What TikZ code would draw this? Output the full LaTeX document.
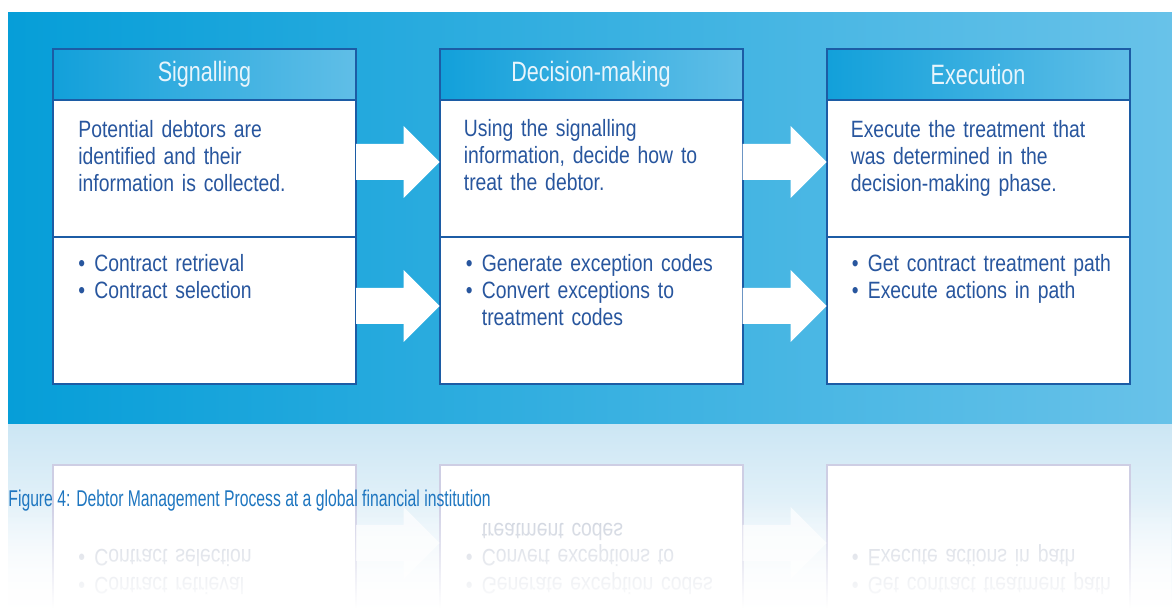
\documentclass[tikz,border=0pt]{standalone}
\usepackage{fontspec}
\setmainfont[FakeStretch=0.82]{Liberation Sans}
\newfontfamily\headfont[FakeStretch=0.77]{Liberation Sans}
\newfontfamily\capfont[FakeStretch=0.69]{Liberation Sans}
\usepackage{tikz}
\usetikzlibrary{positioning,calc,fadings}

\definecolor{panelleft}{RGB}{6,158,216}
\definecolor{panelright}{RGB}{104,194,233}
\definecolor{headleft}{RGB}{18,160,218}
\definecolor{headright}{RGB}{96,190,231}
\definecolor{boxline}{RGB}{28,92,165}
\definecolor{inktext}{RGB}{40,86,158}
\definecolor{headtext}{RGB}{232,245,252}
\definecolor{captionblue}{RGB}{30,118,192}
\definecolor{mirrorblue}{RGB}{204,230,244}
\definecolor{mirrorline}{RGB}{206,206,228}
\definecolor{mirrortext}{RGB}{200,206,218}

% white block arrow between two stages, #4 = height of its axis
\newcommand{\flowarrow}[4][white]{%
  \fill[#1] let \p1=(#2.east), \p2=(#3.west), \p3=(0,#4) in
    (\x1,\y3+9pt) -- (\x2-18pt,\y3+9pt) -- (\x2-18pt,\y3+18pt) -- (\x2,\y3)
    -- (\x2-18pt,\y3-18pt) -- (\x2-18pt,\y3-9pt) -- (\x1,\y3-9pt) -- cycle;}
\newcommand{\stagebullet}{\makebox[8pt][l]{\textbullet}}

\begin{document}
\begin{tikzpicture}[x=0.5pt, y=-0.5pt,
    stagehead/.style={draw=boxline, line width=1pt, left color=headleft, right color=headright,
      minimum width=151.5pt, minimum height=25.5pt, inner sep=0pt, outer sep=0pt,
      text=headtext, font=\headfont\fontsize{14}{16}\selectfont},
    stagebody/.style={draw=boxline, line width=1pt, fill=white, minimum width=151.5pt,
      inner sep=0pt, outer sep=0pt},
    stagetext/.style={text=inktext, align=left, text width=135pt, inner sep=0pt,
      anchor=base west, font=\fontsize{11.8}{13.5}\selectfont},
    mirrorbox/.style={draw=mirrorline, line width=1pt, fill=white, minimum width=151.5pt,
      minimum height=73.5pt, inner sep=0pt, outer sep=0pt},
    mirrortext/.style={stagetext, text=mirrortext, yscale=-1}]
    \useasboundingbox (0,0) rectangle (1172,608);
    \fill[white] (0,0) rectangle (1172,608);
    \shade[left color=panelleft, right color=panelright] (8,13) rectangle (1172,425);

    % the three stages
    \node[stagehead] (h1) at (204.5,74.5) {Signalling};
    \node[stagebody, minimum height=68.5pt, below=0pt of h1] (u1) {};
    \node[stagebody, minimum height=73.5pt, below=0pt of u1] (l1) {};
    \node[stagehead] (h2) at (591,74.5) {Decision-making};
    \node[stagebody, minimum height=68.5pt, below=0pt of h2] (u2) {};
    \node[stagebody, minimum height=73.5pt, below=0pt of u2] (l2) {};
    \node[stagehead] (h3) at (978,74.5) {Execution};
    \node[stagebody, minimum height=68.5pt, below=0pt of h3] (u3) {};
    \node[stagebody, minimum height=73.5pt, below=0pt of u3] (l3) {};

    \node[stagetext] (t1) at ([xshift=12.5pt, yshift=-19pt]u1.north west)
      {Potential debtors are\\identified and their\\information is collected.};
    \node[stagetext] (t2) at ([xshift=12pt, yshift=-18.5pt]u2.north west)
      {Using the signalling\\information, decide how to\\treat the debtor.};
    \node[stagetext] (t3) at ([xshift=12pt, yshift=-19pt]u3.north west)
      {Execute the treatment that\\was determined in the\\decision-making phase.};
    \node[stagetext] (b1) at ([xshift=12.5pt, yshift=-17.5pt]l1.north west)
      {\stagebullet Contract retrieval\\\stagebullet Contract selection};
    \node[stagetext] (b2) at ([xshift=13pt, yshift=-17.5pt]l2.north west)
      {\stagebullet Generate exception codes\\\stagebullet Convert exceptions to\\\hspace*{8pt}treatment codes};
    \node[stagetext] (b3) at ([xshift=12.5pt, yshift=-17.5pt]l3.north west)
      {\stagebullet Get contract treatment path\\\stagebullet Execute actions in path};

    \flowarrow{u1}{u2}{162}
    \flowarrow{l1}{l2}{306}
    \flowarrow{u2}{u3}{162}
    \flowarrow{l2}{l3}{306}

    % reflection under the panel
    \begin{scope}
      \clip (8,425) rectangle (1172,608);
      \shade[top color=mirrorblue, bottom color=white] (8,425) rectangle (1172,608);
      \node[mirrorbox, below=40.5pt of l1] (m1) {};
      \node[mirrorbox, below=40.5pt of l2] (m2) {};
      \node[mirrorbox, below=40.5pt of l3] (m3) {};
      \flowarrow[white, opacity=0.7]{m1}{m2}{543}
      \flowarrow[white, opacity=0.7]{m2}{m3}{543}
      \node[mirrortext] (r1) at ([xshift=12.5pt, yshift=-56pt]m1.north west)
        {\stagebullet Contract retrieval\\\stagebullet Contract selection};
      \node[mirrortext] (r2) at ([xshift=13pt, yshift=-56pt]m2.north west)
        {\stagebullet Generate exception codes\\\stagebullet Convert exceptions to\\\hspace*{8pt}treatment codes};
      \node[mirrortext] (r3) at ([xshift=12.5pt, yshift=-56pt]m3.north west)
        {\stagebullet Get contract treatment path\\\stagebullet Execute actions in path};
      \fill[white, path fading=north] (8,500) rectangle (1172,608);
    \end{scope}

    \node[anchor=base west, inner sep=0pt, text=captionblue, font=\capfont\fontsize{11.4}{13}\selectfont]
      (cap) at (8,507) {Figure 4: Debtor Management Process at a global financial institution};
\end{tikzpicture}
\end{document}
